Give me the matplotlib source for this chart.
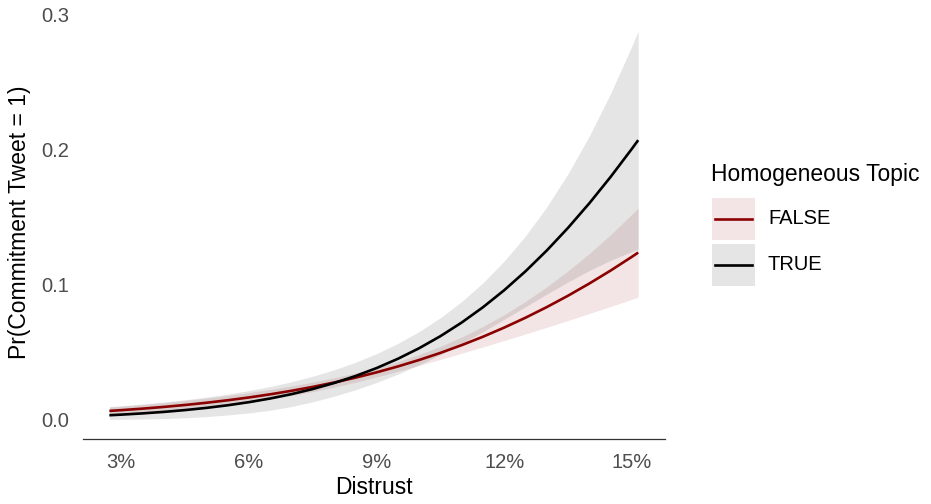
import numpy as np
import matplotlib
matplotlib.use("Agg")
import matplotlib.pyplot as plt
from matplotlib.patches import Rectangle
from matplotlib.lines import Line2D

plt.rcParams['font.family'] = ['Liberation Sans', 'DejaVu Sans']

# distrust (%), values
distrust = [2.72, 3, 3.5, 4, 4.5, 5, 5.5, 6, 6.5, 7, 7.5, 8, 8.5, 9, 9.5,
            10, 10.5, 11, 11.5, 12, 12.5, 13, 13.5, 14, 14.5, 15, 15.15]

false_fit = [0.00670, 0.00727, 0.00839, 0.00967, 0.01111, 0.01275, 0.01459, 0.01667, 0.01900,
             0.02160, 0.02450, 0.02773, 0.03131, 0.03527, 0.03963, 0.04443, 0.04968, 0.05542,
             0.06165, 0.06842, 0.07573, 0.08360, 0.09203, 0.10106, 0.11065, 0.12084, 0.12401]
false_hi = [0.00943, 0.01010, 0.01140, 0.01283, 0.01442, 0.01617, 0.01811, 0.02024, 0.02259,
            0.02518, 0.02803, 0.03119, 0.03471, 0.03869, 0.04322, 0.04847, 0.05450, 0.06143,
            0.06925, 0.07804, 0.08780, 0.09858, 0.11039, 0.12329, 0.13726, 0.15234, 0.15709]
false_lo = [0.00420, 0.00460, 0.00545, 0.00651, 0.00780, 0.00933, 0.01107, 0.01310, 0.01541,
            0.01802, 0.02097, 0.02427, 0.02791, 0.03185, 0.03604, 0.04039, 0.04486, 0.04941,
            0.05405, 0.05880, 0.06366, 0.06862, 0.07367, 0.07883, 0.08404, 0.08934, 0.09093]

true_fit = [0.00351, 0.00395, 0.00487, 0.00598, 0.00733, 0.00895, 0.01088, 0.01318, 0.01591,
            0.01913, 0.02292, 0.02734, 0.03249, 0.03844, 0.04530, 0.05314, 0.06206, 0.07215,
            0.08348, 0.09611, 0.11011, 0.12550, 0.14230, 0.16047, 0.18000, 0.20081, 0.20730]
true_hi = [0.00990, 0.01054, 0.01182, 0.01328, 0.01497, 0.01692, 0.01916, 0.02177, 0.02479,
           0.02830, 0.03238, 0.03713, 0.04267, 0.04914, 0.05668, 0.06547, 0.07573, 0.08768,
           0.10158, 0.11770, 0.13634, 0.15780, 0.18236, 0.21027, 0.24175, 0.27690, 0.28813]
true_lo = [0.00040, 0.00050, 0.00070, 0.00100, 0.00160, 0.00250, 0.00370, 0.00520, 0.00720,
           0.00996, 0.01346, 0.01755, 0.02231, 0.02774, 0.03392, 0.04081, 0.04839, 0.05662,
           0.06538, 0.07452, 0.08388, 0.09320, 0.10224, 0.11067, 0.11825, 0.12472, 0.12647]

groups = ["FALSE", "TRUE"]
colors = {"FALSE": "#8B0000", "TRUE": "#000000"}
x_ticks = [3, 6, 9, 12, 15]
y_ticks = [0.0, 0.1, 0.2, 0.3]

W, H = 931, 504
fig = plt.figure(figsize=(W / 100, H / 100), dpi=100)
ax = fig.add_axes([83 / W, (H - 439) / H, 582 / W, 434 / H])

series = {"FALSE": (false_fit, false_lo, false_hi), "TRUE": (true_fit, true_lo, true_hi)}
for g in groups:
    fit, lo, hi = series[g]
    ax.fill_between(distrust, lo, hi, color=colors[g], alpha=0.1, linewidth=0)
for g in groups:
    fit, lo, hi = series[g]
    ax.plot(distrust, fit, color=colors[g], lw=1.9, solid_capstyle="butt")

ax.set_xlim(2.1, 15.78)
ax.set_ylim(-0.0141, 0.3074)
ax.set_xticks(x_ticks)
ax.set_xticklabels([f"{v}%" for v in x_ticks])
ax.set_yticks(y_ticks)
ax.set_yticklabels([f"{v:.1f}" for v in y_ticks])
ax.tick_params(length=0, labelsize=14.5, labelcolor="#4D4D4D")
ax.tick_params(axis="x", pad=10)
ax.tick_params(axis="y", pad=10)
for s in ["top", "right", "left"]:
    ax.spines[s].set_visible(False)
ax.spines["bottom"].set_color("#333333")
ax.spines["bottom"].set_linewidth(0.9)

ax.set_xlabel("Distrust", fontsize=16.5)
ax.set_ylabel("Pr(Commitment Tweet = 1)", fontsize=16.5)
ax.xaxis.set_label_coords(0.5, (439 - 488) / 434)
ax.xaxis.label.set_va("center")
ax.yaxis.set_label_coords((20 - 83) / 582, 0.5)
ax.yaxis.label.set_va("center")

# legend drawn by hand in pixel positions
def px(x, y):
    return x / W, 1 - y / H

fig.text(*px(711, 174), "Homogeneous Topic", fontsize=16.5, va="center", ha="left")
key_tops = [198, 244]
for g, top in zip(groups, key_tops):
    x0, y0 = px(712, top + 42)
    fig.add_artist(Rectangle((x0, y0), 43 / W, 42 / H, transform=fig.transFigure,
                             facecolor=colors[g], alpha=0.1, edgecolor="none"))
    xa, ya = px(715, top + 21)
    xb, _ = px(752, top + 21)
    fig.add_artist(Line2D([xa, xb], [ya, ya], transform=fig.transFigure,
                          color=colors[g], lw=1.9))
    fig.text(*px(768, top + 21), g, fontsize=14.5, va="center", ha="left")

fig.savefig("out.png", dpi=100)
